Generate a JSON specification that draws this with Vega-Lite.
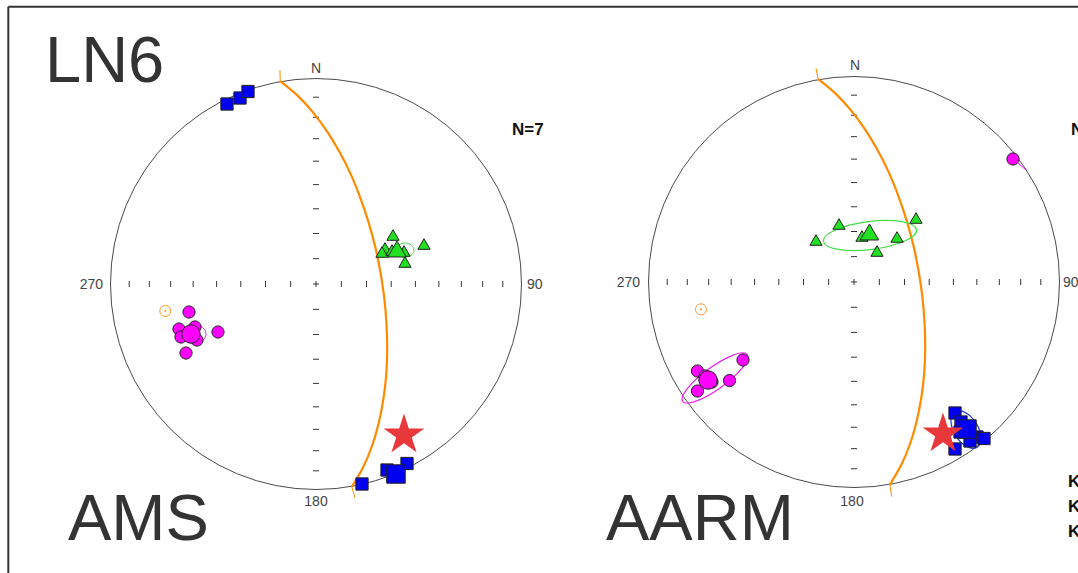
{
  "$schema": "https://vega.github.io/schema/vega-lite/v6.json",
  "width": 1078,
  "height": 573,
  "padding": 0,
  "autosize": "none",
  "background": "#ffffff",
  "config": {"view": {"stroke": null}},
  "datasets": {
    "frame": [
      {"x": -1.4973, "y": 1.3494, "x2": -1.4973, "y2": -1.5},
      {"x": -1.4973, "y": 1.3494, "x2": 3.8, "y2": 1.3494}
    ],
    "prim": [{"net": "L", "x": 0, "y": 0}, {"net": "R", "x": 2.618, "y": 0.0097}],
    "ticks": [
      {"dir": "h", "x": 0, "y": 0},
      {"dir": "h", "x": 0.1233, "y": 0}, {"dir": "h", "x": 0.2456, "y": 0}, {"dir": "h", "x": 0.366, "y": 0}, {"dir": "h", "x": 0.4837, "y": 0},
      {"dir": "h", "x": 0.5977, "y": 0}, {"dir": "h", "x": 0.7071, "y": 0}, {"dir": "h", "x": 0.8112, "y": 0}, {"dir": "h", "x": 0.909, "y": 0},
      {"dir": "h", "x": -0.1233, "y": 0}, {"dir": "h", "x": -0.2456, "y": 0}, {"dir": "h", "x": -0.366, "y": 0}, {"dir": "h", "x": -0.4837, "y": 0},
      {"dir": "h", "x": -0.5977, "y": 0}, {"dir": "h", "x": -0.7071, "y": 0}, {"dir": "h", "x": -0.8112, "y": 0}, {"dir": "h", "x": -0.909, "y": 0},
      {"dir": "v", "x": 0, "y": 0},
      {"dir": "v", "x": 0, "y": 0.1233}, {"dir": "v", "x": 0, "y": 0.2456}, {"dir": "v", "x": 0, "y": 0.366}, {"dir": "v", "x": 0, "y": 0.4837},
      {"dir": "v", "x": 0, "y": 0.5977}, {"dir": "v", "x": 0, "y": 0.7071}, {"dir": "v", "x": 0, "y": 0.8112}, {"dir": "v", "x": 0, "y": 0.909},
      {"dir": "v", "x": 0, "y": -0.1233}, {"dir": "v", "x": 0, "y": -0.2456}, {"dir": "v", "x": 0, "y": -0.366}, {"dir": "v", "x": 0, "y": -0.4837},
      {"dir": "v", "x": 0, "y": -0.5977}, {"dir": "v", "x": 0, "y": -0.7071}, {"dir": "v", "x": 0, "y": -0.8112}, {"dir": "v", "x": 0, "y": -0.909},
      {"dir": "h", "x": 2.618, "y": 0.01},
      {"dir": "h", "x": 2.7413, "y": 0.01}, {"dir": "h", "x": 2.8636, "y": 0.01}, {"dir": "h", "x": 2.984, "y": 0.01}, {"dir": "h", "x": 3.1017, "y": 0.01},
      {"dir": "h", "x": 3.2157, "y": 0.01}, {"dir": "h", "x": 3.3251, "y": 0.01}, {"dir": "h", "x": 3.4292, "y": 0.01}, {"dir": "h", "x": 3.527, "y": 0.01},
      {"dir": "h", "x": 2.4947, "y": 0.01}, {"dir": "h", "x": 2.3724, "y": 0.01}, {"dir": "h", "x": 2.252, "y": 0.01}, {"dir": "h", "x": 2.1343, "y": 0.01},
      {"dir": "h", "x": 2.0203, "y": 0.01}, {"dir": "h", "x": 1.9109, "y": 0.01}, {"dir": "h", "x": 1.8068, "y": 0.01}, {"dir": "h", "x": 1.709, "y": 0.01},
      {"dir": "v", "x": 2.618, "y": 0.01},
      {"dir": "v", "x": 2.618, "y": 0.1333}, {"dir": "v", "x": 2.618, "y": 0.2556}, {"dir": "v", "x": 2.618, "y": 0.376}, {"dir": "v", "x": 2.618, "y": 0.4937},
      {"dir": "v", "x": 2.618, "y": 0.6077}, {"dir": "v", "x": 2.618, "y": 0.7171}, {"dir": "v", "x": 2.618, "y": 0.8212}, {"dir": "v", "x": 2.618, "y": 0.919},
      {"dir": "v", "x": 2.618, "y": -0.1133}, {"dir": "v", "x": 2.618, "y": -0.2356}, {"dir": "v", "x": 2.618, "y": -0.356}, {"dir": "v", "x": 2.618, "y": -0.4737},
      {"dir": "v", "x": 2.618, "y": -0.5877}, {"dir": "v", "x": 2.618, "y": -0.6971}, {"dir": "v", "x": 2.618, "y": -0.8012}, {"dir": "v", "x": 2.618, "y": -0.899}
    ],
    "gc": [
      {"net": "L", "i": 0, "x": -0.1742, "y": 0.9874},
      {"net": "L", "i": 1, "x": -0.0895, "y": 0.9168},
      {"net": "L", "i": 2, "x": -0.0136, "y": 0.8341},
      {"net": "L", "i": 3, "x": 0.0545, "y": 0.7416},
      {"net": "L", "i": 4, "x": 0.1153, "y": 0.6409},
      {"net": "L", "i": 5, "x": 0.1694, "y": 0.5334},
      {"net": "L", "i": 6, "x": 0.2156, "y": 0.4195},
      {"net": "L", "i": 7, "x": 0.2555, "y": 0.3012},
      {"net": "L", "i": 8, "x": 0.2886, "y": 0.1796},
      {"net": "L", "i": 9, "x": 0.3139, "y": 0.0555},
      {"net": "L", "i": 10, "x": 0.3324, "y": -0.07},
      {"net": "L", "i": 11, "x": 0.3431, "y": -0.1956},
      {"net": "L", "i": 12, "x": 0.3465, "y": -0.3206},
      {"net": "L", "i": 13, "x": 0.3416, "y": -0.4433},
      {"net": "L", "i": 14, "x": 0.3275, "y": -0.563},
      {"net": "L", "i": 15, "x": 0.3046, "y": -0.6783},
      {"net": "L", "i": 16, "x": 0.2725, "y": -0.7883},
      {"net": "L", "i": 17, "x": 0.2292, "y": -0.8919},
      {"net": "L", "i": 18, "x": 0.1742, "y": -0.9873},
      {"net": "R", "i": 0, "x": 2.4438, "y": 0.9971},
      {"net": "R", "i": 1, "x": 2.5285, "y": 0.9265},
      {"net": "R", "i": 2, "x": 2.6044, "y": 0.8438},
      {"net": "R", "i": 3, "x": 2.6725, "y": 0.7513},
      {"net": "R", "i": 4, "x": 2.7333, "y": 0.6506},
      {"net": "R", "i": 5, "x": 2.7874, "y": 0.5431},
      {"net": "R", "i": 6, "x": 2.8336, "y": 0.4292},
      {"net": "R", "i": 7, "x": 2.8735, "y": 0.3109},
      {"net": "R", "i": 8, "x": 2.9066, "y": 0.1893},
      {"net": "R", "i": 9, "x": 2.9319, "y": 0.0652},
      {"net": "R", "i": 10, "x": 2.9504, "y": -0.0603},
      {"net": "R", "i": 11, "x": 2.9611, "y": -0.1859},
      {"net": "R", "i": 12, "x": 2.9645, "y": -0.3109},
      {"net": "R", "i": 13, "x": 2.9596, "y": -0.4336},
      {"net": "R", "i": 14, "x": 2.9455, "y": -0.5533},
      {"net": "R", "i": 15, "x": 2.9226, "y": -0.6686},
      {"net": "R", "i": 16, "x": 2.8905, "y": -0.7786},
      {"net": "R", "i": 17, "x": 2.8472, "y": -0.8822},
      {"net": "R", "i": 18, "x": 2.7922, "y": -0.9776}
    ],
    "gcx": [
      {"x": -0.1752, "y": 1.0414, "x2": -0.1742, "y2": 0.9874},
      {"x": 0.1742, "y": -0.9873, "x2": 0.1898, "y2": -1.0414},
      {"x": 2.4331, "y": 1.0496, "x2": 2.4438, "y2": 0.9971},
      {"x": 2.7922, "y": -0.9776, "x2": 2.8015, "y2": -1.035}
    ],
    "tail": [{"x": 3.4161, "y": 0.5888, "x2": 3.455, "y2": 0.5547}],
    "ell": [
      {"id": "LK2", "x": 0.4331, "y": 0.1655},
      {"id": "LK3", "x": -0.5888, "y": -0.2433},
      {"id": "RK2", "x": 2.6959, "y": 0.236},
      {"id": "RK3", "x": 1.9416, "y": -0.4574},
      {"id": "RK1", "x": 3.163, "y": -0.708}
    ],
    "pole": [{"net": "L", "x": -0.7333, "y": -0.1314}, {"net": "R", "x": 1.8735, "y": -0.1231}],
    "pts": [
      {"net": "L", "axis": "K1", "kind": "sample", "x": -0.4331, "y": 0.8759},
      {"net": "L", "axis": "K1", "kind": "sample", "x": -0.3698, "y": 0.9051},
      {"net": "L", "axis": "K1", "kind": "sample", "x": -0.3309, "y": 0.9367},
      {"net": "L", "axis": "K1", "kind": "sample", "x": 0.2238, "y": -0.9732},
      {"net": "L", "axis": "K1", "kind": "sample", "x": 0.3455, "y": -0.9051},
      {"net": "L", "axis": "K1", "kind": "sample", "x": 0.4428, "y": -0.8735},
      {"net": "L", "axis": "K1", "kind": "sample", "x": 0.3747, "y": -0.9343},
      {"net": "L", "axis": "K1", "kind": "mean", "x": 0.3893, "y": -0.9246},
      {"net": "L", "axis": "K2", "kind": "sample", "x": 0.3747, "y": 0.2384},
      {"net": "L", "axis": "K2", "kind": "sample", "x": 0.3358, "y": 0.1752},
      {"net": "L", "axis": "K2", "kind": "sample", "x": 0.3212, "y": 0.1557},
      {"net": "L", "axis": "K2", "kind": "sample", "x": 0.3698, "y": 0.1655},
      {"net": "L", "axis": "K2", "kind": "sample", "x": 0.4282, "y": 0.1606},
      {"net": "L", "axis": "K2", "kind": "sample", "x": 0.4331, "y": 0.1071},
      {"net": "L", "axis": "K2", "kind": "sample", "x": 0.5255, "y": 0.1946},
      {"net": "L", "axis": "K2", "kind": "mean", "x": 0.3942, "y": 0.1703},
      {"net": "L", "axis": "K3", "kind": "sample", "x": -0.618, "y": -0.1363},
      {"net": "L", "axis": "K3", "kind": "sample", "x": -0.6667, "y": -0.219},
      {"net": "L", "axis": "K3", "kind": "sample", "x": -0.5888, "y": -0.2092},
      {"net": "L", "axis": "K3", "kind": "sample", "x": -0.4769, "y": -0.2336},
      {"net": "L", "axis": "K3", "kind": "sample", "x": -0.6326, "y": -0.3358},
      {"net": "L", "axis": "K3", "kind": "sample", "x": -0.6569, "y": -0.2579},
      {"net": "L", "axis": "K3", "kind": "sample", "x": -0.5791, "y": -0.2725},
      {"net": "L", "axis": "K3", "kind": "mean", "x": -0.6083, "y": -0.2433},
      {"net": "R", "axis": "K1", "kind": "sample", "x": 3.1095, "y": -0.6277},
      {"net": "R", "axis": "K1", "kind": "sample", "x": 3.1387, "y": -0.6715},
      {"net": "R", "axis": "K1", "kind": "sample", "x": 3.2165, "y": -0.7445},
      {"net": "R", "axis": "K1", "kind": "sample", "x": 3.2506, "y": -0.7518},
      {"net": "R", "axis": "K1", "kind": "sample", "x": 3.1095, "y": -0.8029},
      {"net": "R", "axis": "K1", "kind": "sample", "x": 3.1825, "y": -0.764},
      {"net": "R", "axis": "K1", "kind": "sample", "x": 3.1338, "y": -0.7202},
      {"net": "R", "axis": "K1", "kind": "mean", "x": 3.1679, "y": -0.7056},
      {"net": "R", "axis": "K2", "kind": "sample", "x": 2.545, "y": 0.292},
      {"net": "R", "axis": "K2", "kind": "sample", "x": 2.4331, "y": 0.2141},
      {"net": "R", "axis": "K2", "kind": "sample", "x": 2.8273, "y": 0.2287},
      {"net": "R", "axis": "K2", "kind": "sample", "x": 2.7299, "y": 0.1606},
      {"net": "R", "axis": "K2", "kind": "sample", "x": 2.9197, "y": 0.3212},
      {"net": "R", "axis": "K2", "kind": "sample", "x": 2.6959, "y": 0.2482},
      {"net": "R", "axis": "K2", "kind": "sample", "x": 2.6569, "y": 0.2336},
      {"net": "R", "axis": "K2", "kind": "mean", "x": 2.6934, "y": 0.253},
      {"net": "R", "axis": "K3", "kind": "sample", "x": 3.3917, "y": 0.6083},
      {"net": "R", "axis": "K3", "kind": "sample", "x": 1.8564, "y": -0.4234},
      {"net": "R", "axis": "K3", "kind": "sample", "x": 2.0779, "y": -0.3698},
      {"net": "R", "axis": "K3", "kind": "sample", "x": 2.0122, "y": -0.4696},
      {"net": "R", "axis": "K3", "kind": "sample", "x": 1.8564, "y": -0.5207},
      {"net": "R", "axis": "K3", "kind": "sample", "x": 1.8929, "y": -0.4477},
      {"net": "R", "axis": "K3", "kind": "sample", "x": 1.927, "y": -0.4769},
      {"net": "R", "axis": "K3", "kind": "mean", "x": 1.9075, "y": -0.4672}
    ],
    "star": [{"net": "L", "x": 0.4282, "y": -0.7348}, {"net": "R", "x": 3.0511, "y": -0.7299}],
    "big": [
      {"label": "LN6", "x": -1.3187, "y": 0.983},
      {"label": "AMS", "x": -1.2068, "y": -1.2457},
      {"label": "AARM", "x": 1.4112, "y": -1.2457}
    ],
    "dirs": [
      {"label": "N", "x": 0, "y": 1.0462},
      {"label": "180", "x": 0, "y": -1.0608},
      {"label": "N", "x": 2.6229, "y": 1.0608},
      {"label": "180", "x": 2.6083, "y": -1.0594},
      {"label": "270", "x": -1.0365, "y": -0.005},
      {"label": "270", "x": 1.5766, "y": 0.005},
      {"label": "90", "x": 1.0268, "y": -0.005},
      {"label": "90", "x": 3.635, "y": 0.005}
    ],
    "nlab": [{"label": "N=7", "x": 0.9538, "y": 0.7494}, {"label": "N=7", "x": 3.674, "y": 0.7494}],
    "klab": [
      {"label": "K1 = 1.000", "x": 3.6594, "y": -0.9635},
      {"label": "K2 = 1.000", "x": 3.6594, "y": -1.0852},
      {"label": "K3 = 1.000", "x": 3.6594, "y": -1.2068}
    ]
  },
  "encoding": {
    "x": {"field": "x", "type": "quantitative", "scale": {"domain": [-1.5377, 3.708], "nice": false, "zero": false}, "axis": null},
    "y": {"field": "y", "type": "quantitative", "scale": {"domain": [-1.4063, 1.382], "nice": false, "zero": false}, "axis": null}
  },
  "layer": [
    {"data": {"name": "frame"}, "mark": {"type": "rule", "color": "#333333", "strokeWidth": 2, "clip": true}, "encoding": {"x2": {"field": "x2"}, "y2": {"field": "y2"}}},
    {"data": {"name": "prim"}, "mark": {"type": "point", "shape": "circle", "size": 168921, "filled": false, "stroke": "#4a4a4a", "strokeWidth": 1, "opacity": 1}},
    {"data": {"name": "ticks"}, "transform": [{"filter": "datum.dir === 'h'"}], "mark": {"type": "tick", "orient": "vertical", "size": 6, "thickness": 1, "color": "#333333", "opacity": 1}},
    {"data": {"name": "ticks"}, "transform": [{"filter": "datum.dir === 'v'"}], "mark": {"type": "tick", "orient": "horizontal", "size": 6, "thickness": 1, "color": "#333333", "opacity": 1}},
    {"data": {"name": "gc"}, "mark": {"type": "line", "color": "#ff8a00", "strokeWidth": 2.2, "interpolate": "catmull-rom"}, "encoding": {"order": {"field": "i", "type": "quantitative"}, "detail": {"field": "net"}}},
    {"data": {"name": "gcx"}, "mark": {"type": "rule", "color": "#ff8a00", "strokeWidth": 1}, "encoding": {"x2": {"field": "x2"}, "y2": {"field": "y2"}}},
    {"data": {"name": "tail"}, "mark": {"type": "rule", "color": "#ff00ff", "strokeWidth": 1}, "encoding": {"x2": {"field": "x2"}, "y2": {"field": "y2"}}},
    {"data": {"name": "ell"}, "transform": [{"filter": "datum.id === 'LK2'"}], "mark": {"type": "point", "shape": "M1,0C1,0.4297,0.5523,0.778,0,0.778C-0.5523,0.778,-1,0.4297,-1,0C-1,-0.4297,-0.5523,-0.778,0,-0.778C0.5523,-0.778,1,-0.4297,1,0Z", "size": 324, "filled": false, "stroke": "#44dd44", "strokeWidth": 1, "opacity": 1}},
    {"data": {"name": "ell"}, "transform": [{"filter": "datum.id === 'LK3'"}], "mark": {"type": "point", "shape": "M1,0C1,0.4518,0.5523,0.818,0,0.818C-0.5523,0.818,-1,0.4518,-1,0C-1,-0.4518,-0.5523,-0.818,0,-0.818C0.5523,-0.818,1,-0.4518,1,0Z", "size": 484, "filled": false, "stroke": "#ee22ee", "strokeWidth": 1, "opacity": 1}},
    {"data": {"name": "ell"}, "transform": [{"filter": "datum.id === 'RK2'"}], "mark": {"type": "point", "shape": "M1,0C1,0.1646,0.5523,0.298,0,0.298C-0.5523,0.298,-1,0.1646,-1,0C-1,-0.1646,-0.5523,-0.298,0,-0.298C0.5523,-0.298,1,-0.1646,1,0Z", "size": 8836, "angle": -7, "filled": false, "stroke": "#44dd44", "strokeWidth": 1.2, "opacity": 1}},
    {"data": {"name": "ell"}, "transform": [{"filter": "datum.id === 'RK3'"}], "mark": {"type": "point", "shape": "M1,0C1,0.1519,0.5523,0.275,0,0.275C-0.5523,0.275,-1,0.1519,-1,0C-1,-0.1519,-0.5523,-0.275,0,-0.275C0.5523,-0.275,1,-0.1519,1,0Z", "size": 6400, "angle": -36, "filled": false, "stroke": "#ee22ee", "strokeWidth": 1.2, "opacity": 1}},
    {"data": {"name": "ell"}, "transform": [{"filter": "datum.id === 'RK1'"}], "mark": {"type": "point", "shape": "M1,0C1,0.3154,0.5523,0.571,0,0.571C-0.5523,0.571,-1,0.3154,-1,0C-1,-0.3154,-0.5523,-0.571,0,-0.571C0.5523,-0.571,1,-0.3154,1,0Z", "size": 1764, "angle": 58, "filled": false, "stroke": "#2233dd", "strokeWidth": 1.2, "opacity": 1}},
    {"data": {"name": "pole"}, "mark": {"type": "point", "shape": "circle", "size": 121, "filled": false, "stroke": "#ff9933", "strokeWidth": 1, "opacity": 1}},
    {"data": {"name": "pole"}, "mark": {"type": "point", "shape": "circle", "size": 5, "filled": true, "color": "#ff9933", "opacity": 1}},
    {"data": {"name": "pts"}, "transform": [{"filter": "datum.axis === 'K3'"}], "mark": {"type": "point", "shape": "circle", "filled": true, "fill": "#ff00ff", "stroke": "#222222", "strokeWidth": 1, "opacity": 1},
      "encoding": {"size": {"field": "kind", "type": "nominal", "scale": {"domain": ["sample", "mean"], "range": [150, 340]}, "legend": null}}},
    {"data": {"name": "pts"}, "transform": [{"filter": "datum.axis === 'K2'"}], "mark": {"type": "point", "shape": "triangle-up", "filled": true, "fill": "#22e022", "stroke": "#222222", "strokeWidth": 1, "opacity": 1},
      "encoding": {"size": {"field": "kind", "type": "nominal", "scale": {"domain": ["sample", "mean"], "range": [180, 400]}, "legend": null}}},
    {"data": {"name": "pts"}, "transform": [{"filter": "datum.axis === 'K1'"}], "mark": {"type": "point", "shape": "square", "filled": true, "fill": "#0000f0", "stroke": "#222222", "strokeWidth": 1, "opacity": 1},
      "encoding": {"size": {"field": "kind", "type": "nominal", "scale": {"domain": ["sample", "mean"], "range": [169, 361]}, "legend": null}}},
    {"data": {"name": "star"}, "mark": {"type": "point", "shape": "M0,-1L0.2245,-0.309L0.9511,-0.309L0.3633,0.118L0.5878,0.809L0,0.382L-0.5878,0.809L-0.3633,0.118L-0.9511,-0.309L-0.2245,-0.309Z", "size": 1832, "filled": true, "fill": "#e8383b", "strokeWidth": 0, "opacity": 1}},
    {"data": {"name": "big"}, "mark": {"type": "text", "font": "Liberation Sans", "fontSize": 65, "color": "#333333", "align": "left", "baseline": "alphabetic"}, "encoding": {"text": {"field": "label"}}},
    {"data": {"name": "dirs"}, "transform": [{"filter": "datum.label === 'N' || datum.label === '180'"}], "mark": {"type": "text", "font": "Liberation Sans", "fontSize": 14, "color": "#444444", "align": "center", "baseline": "middle"}, "encoding": {"text": {"field": "label"}}},
    {"data": {"name": "dirs"}, "transform": [{"filter": "datum.label === '270'"}], "mark": {"type": "text", "font": "Liberation Sans", "fontSize": 14, "color": "#444444", "align": "right", "baseline": "middle"}, "encoding": {"text": {"field": "label"}}},
    {"data": {"name": "dirs"}, "transform": [{"filter": "datum.label === '90'"}], "mark": {"type": "text", "font": "Liberation Sans", "fontSize": 14, "color": "#444444", "align": "left", "baseline": "middle", "clip": true}, "encoding": {"text": {"field": "label"}}},
    {"data": {"name": "nlab"}, "mark": {"type": "text", "font": "Liberation Sans", "fontSize": 17, "fontWeight": "bold", "color": "#111111", "align": "left", "baseline": "middle", "clip": true}, "encoding": {"text": {"field": "label"}}},
    {"data": {"name": "klab"}, "mark": {"type": "text", "font": "Liberation Sans", "fontSize": 17, "fontWeight": "bold", "color": "#111111", "align": "left", "baseline": "middle", "clip": true}, "encoding": {"text": {"field": "label"}}}
  ]
}
